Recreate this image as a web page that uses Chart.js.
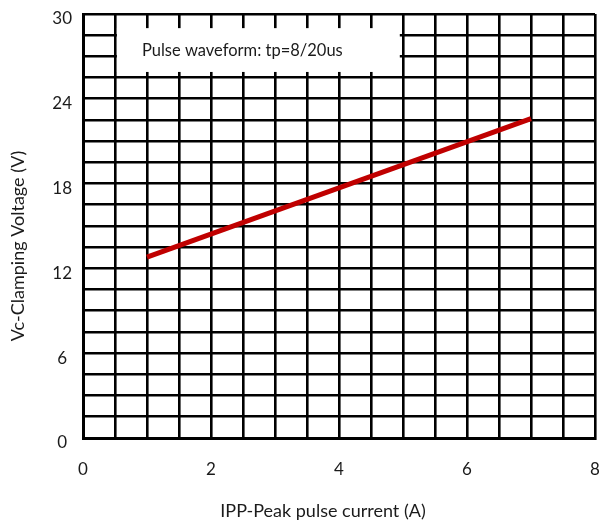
<!DOCTYPE html>
<html>
<head>
<meta charset="utf-8">
<script src="https://cdn.jsdelivr.net/npm/chart.js@4.4.1/dist/chart.umd.min.js"></script>
<style>
  html, body { margin: 0; padding: 0; background: #fff; }
  #wrap { width: 600px; height: 527px; }
</style>
</head>
<body>
<div id="wrap"><canvas id="c" width="600" height="527"></canvas></div>
<script>
// Peak pulse current (A) and matching clamping voltage (V)
const peakCurrent = [1, 7];
const clampVoltage = [12.8, 22.6];

// Axis ranges, grid steps and labelled tick values
const xRange = [0, 8];
const yRange = [0, 30];
const xGridStep = 0.5;
const yGridStep = 1.5;
const xLabelEvery = 2;
const yLabelEvery = 6;

const noteText = 'Pulse waveform: tp=8/20us';
const xTitle = 'IPP-Peak pulse current (A)';
const yTitle = 'Vc-Clamping Voltage (V)';

const FONT = 'Lato, "Open Sans", sans-serif';
const TEXT = '#1b1b1b';

const isMultiple = (v, m) => Math.abs(v / m - Math.round(v / m)) < 1e-6;

// White note panel laid over the grid, plus free-standing axis titles
const decorations = {
  id: 'decorations',
  beforeDatasetsDraw(chart, args, opts) {
    const { ctx, scales: { x, y } } = chart;
    const l = x.getPixelForValue(opts.box.x0);
    const r = x.getPixelForValue(opts.box.x1);
    const t = y.getPixelForValue(opts.box.y1);
    const b = y.getPixelForValue(opts.box.y0);
    ctx.save();
    ctx.fillStyle = '#fff';
    ctx.fillRect(l, t, r - l, b - t);
    ctx.fillStyle = TEXT;
    ctx.font = '16.5px ' + FONT;
    ctx.textAlign = 'left';
    ctx.textBaseline = 'middle';
    ctx.fillText(noteText, l + opts.textInset, (t + b) / 2 + 1);
    ctx.restore();
  },
  afterDraw(chart, args, opts) {
    const { ctx, chartArea: a } = chart;
    ctx.save();
    ctx.fillStyle = TEXT;
    ctx.font = '18px ' + FONT;
    ctx.textAlign = 'center';
    ctx.textBaseline = 'middle';
    ctx.fillText(xTitle, (a.left + a.right) / 2 + opts.xTitleShift, a.bottom + opts.xTitleGap);
    ctx.translate(opts.yTitleX, (a.top + a.bottom) / 2 + opts.yTitleShift);
    ctx.rotate(-Math.PI / 2);
    ctx.fillText(yTitle, 0, 0);
    ctx.restore();
  }
};

new Chart(document.getElementById('c'), {
  type: 'line',
  data: {
    datasets: [{
      data: peakCurrent.map((v, i) => ({ x: v, y: clampVoltage[i] })),
      borderColor: '#c00000',
      borderWidth: 5,
      pointRadius: 0,
      tension: 0,
      fill: false
    }]
  },
  plugins: [decorations],
  options: {
    responsive: false,
    animation: false,
    devicePixelRatio: 1,
    layout: { padding: { top: 14, right: 5, left: 0, bottom: 0 } },
    plugins: {
      legend: { display: false },
      tooltip: { enabled: false },
      decorations: {
        box: { x0: 0.53, x1: 4.95, y0: 25.9, y1: 29.0 },
        textInset: 25,
        xTitleShift: -16,
        xTitleGap: 73,
        yTitleX: 18,
        yTitleShift: 20
      }
    },
    scales: {
      x: {
        type: 'linear',
        min: xRange[0],
        max: xRange[1],
        afterFit(s) { s.height = 89; s.paddingLeft = 0; s.paddingRight = 5; },
        grid: { color: '#000', lineWidth: 2.6, drawTicks: false },
        border: { display: true, color: '#000', width: 3 },
        ticks: {
          stepSize: xGridStep,
          autoSkip: false,
          maxTicksLimit: 100,
          maxRotation: 0,
          padding: 21,
          color: TEXT,
          font: { family: FONT, size: 17 },
          callback: v => isMultiple(v, xLabelEvery) ? String(Math.round(v)) : ''
        }
      },
      y: {
        type: 'linear',
        min: yRange[0],
        max: yRange[1],
        afterFit(s) { s.width = 83; s.paddingTop = 14; s.paddingBottom = 0; },
        grid: { color: '#000', lineWidth: 2.6, drawTicks: false },
        border: { display: true, color: '#000', width: 3 },
        ticks: {
          stepSize: yGridStep,
          autoSkip: false,
          maxTicksLimit: 100,
          padding: 11,
          crossAlign: 'center',
          labelOffset: 5,
          color: TEXT,
          font: { family: FONT, size: 17 },
          callback: v => isMultiple(v, yLabelEvery) ? String(Math.round(v)) : ''
        }
      }
    }
  }
});
</script>
</body>
</html>
